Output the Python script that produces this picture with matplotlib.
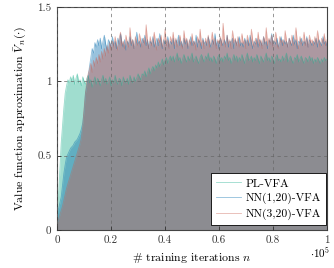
import numpy as np
import matplotlib
matplotlib.use("Agg")
import matplotlib.pyplot as plt

plt.rcParams['font.family'] = ['cmr10', 'DejaVu Serif']
plt.rcParams['mathtext.fontset'] = 'cm'
plt.rcParams['axes.unicode_minus'] = False
plt.rcParams['font.size'] = 8

# training iterations (in units of 1e5), one sample every 500 iterations
iterations = np.arange(0, 100001, 500) / 1e5

# PL-VFA
pl_vfa = [
    0.08, 0.22, 0.40, 0.58, 0.70, 0.82, 0.92, 0.97, 1.01, 0.99, 1.03,
    1.00, 1.04, 0.98, 1.02, 1.05, 0.99, 1.01, 0.97, 1.03, 1.00,
    0.98, 1.02, 1.04, 0.99, 1.01, 0.96, 1.00, 1.03, 0.98, 1.02,
    1.00, 0.97, 1.01, 1.04, 0.99, 1.02, 0.98, 1.00, 1.03, 0.97,
    1.01, 0.99, 1.04, 1.00, 0.98, 1.02, 1.01, 0.97, 1.03, 1.00,
    0.99, 1.02, 0.98, 1.04, 1.01, 0.99, 1.03, 1.00, 1.02, 1.05,
    1.03, 1.01, 1.05, 1.04, 1.07, 1.03, 1.06, 1.09, 1.05, 1.08,
    1.10, 1.07, 1.11, 1.09, 1.13, 1.10, 1.12, 1.15, 1.11, 1.14,
    1.16, 1.12, 1.15, 1.17,
    1.14, 1.17, 1.13, 1.16, 1.19, 1.14, 1.16, 1.12, 1.15, 1.18,
    1.15, 1.13, 1.17, 1.14, 1.16, 1.19, 1.13, 1.15, 1.17, 1.14,
    1.12, 1.16, 1.18, 1.15, 1.13, 1.17, 1.15, 1.19, 1.14, 1.16,
    1.13, 1.17, 1.15, 1.12, 1.16, 1.18, 1.14, 1.16, 1.13, 1.17,
    1.15, 1.19, 1.14, 1.16, 1.12, 1.15, 1.18, 1.14, 1.17, 1.13,
    1.16, 1.14, 1.18, 1.15, 1.12, 1.16, 1.19, 1.14, 1.15, 1.17,
    1.13, 1.16, 1.14, 1.18, 1.15, 1.12, 1.17, 1.15, 1.13, 1.16,
    1.19, 1.14, 1.16, 1.13, 1.17, 1.15, 1.12, 1.16, 1.18, 1.14,
    1.15, 1.13, 1.17, 1.14, 1.16, 1.19, 1.13, 1.15, 1.17, 1.14,
    1.12, 1.16, 1.15, 1.18, 1.13, 1.15, 1.17, 1.14, 1.12, 1.16,
    1.15, 1.13, 1.17, 1.14, 1.16, 1.12, 1.15, 1.13, 1.16, 1.14,
    1.12, 1.15, 1.13, 1.16, 1.14, 1.15,
]

# NN(1,20)-VFA
nn1_vfa = [
    0.10, 0.14, 0.18, 0.22, 0.30, 0.38, 0.44, 0.49, 0.51, 0.53, 0.55, 0.56,
    0.57, 0.59, 0.60, 0.61, 0.63, 0.65, 0.68, 0.72, 0.80, 0.92, 0.97, 1.03,
    1.10, 1.16, 1.22, 1.19, 1.26, 1.23, 1.28,
    1.24, 1.29, 1.22, 1.27, 1.31, 1.25, 1.21, 1.28, 1.26, 1.23,
    1.30, 1.24, 1.27, 1.22, 1.29, 1.25, 1.32, 1.26, 1.23, 1.28,
    1.21, 1.27, 1.25, 1.30, 1.24, 1.28, 1.22, 1.26, 1.33, 1.25,
    1.27, 1.23, 1.29, 1.26, 1.31, 1.24, 1.28, 1.22, 1.27, 1.25,
    1.30, 1.23, 1.26, 1.29, 1.24, 1.32, 1.27, 1.22, 1.28, 1.25,
    1.26, 1.30, 1.23, 1.27, 1.25, 1.29, 1.22, 1.28, 1.26, 1.31,
    1.24, 1.27, 1.23, 1.29, 1.25, 1.28, 1.22, 1.26, 1.30, 1.24,
    1.27, 1.25, 1.31, 1.23, 1.28, 1.26, 1.22, 1.29, 1.25, 1.27,
    1.24, 1.30, 1.26, 1.23, 1.28, 1.25, 1.32, 1.24, 1.27, 1.22,
    1.29, 1.26, 1.24, 1.28, 1.25, 1.31, 1.23, 1.27, 1.26, 1.29,
    1.22, 1.28, 1.25, 1.27, 1.30, 1.24, 1.26, 1.23, 1.29, 1.25,
    1.28, 1.24, 1.31, 1.26, 1.22, 1.27, 1.25, 1.29, 1.23, 1.28,
    1.26, 1.24, 1.30, 1.25, 1.27, 1.22, 1.28, 1.26, 1.32, 1.24,
    1.27, 1.25, 1.29, 1.23, 1.26, 1.30, 1.24, 1.28, 1.25, 1.27,
    1.23, 1.29, 1.26, 1.24, 1.31, 1.25, 1.28, 1.22, 1.27, 1.26,
    1.29, 1.24, 1.27, 1.25, 1.30, 1.23, 1.28, 1.26, 1.24, 1.27,
    1.25, 1.29, 1.23, 1.28, 1.26, 1.24, 1.30, 1.25, 1.27, 1.24,
]

# NN(3,20)-VFA
nn3_vfa = [
    0.05, 0.07, 0.10, 0.13, 0.16, 0.20, 0.24, 0.28, 0.31, 0.34, 0.37, 0.40,
    0.43, 0.46, 0.49, 0.52, 0.55, 0.58, 0.62, 0.70, 0.82, 0.92, 1.00, 1.05,
    1.08, 1.12, 1.06, 1.14, 1.10, 1.16, 1.12, 1.18, 1.13, 1.20, 1.15, 1.22,
    1.17, 1.24, 1.19, 1.26, 1.21,
    1.27, 1.23, 1.30, 1.25, 1.21, 1.29, 1.33, 1.24, 1.27, 1.22,
    1.31, 1.26, 1.23, 1.36, 1.25, 1.28, 1.22, 1.30, 1.26, 1.24,
    1.32, 1.27, 1.23, 1.29, 1.25, 1.38, 1.26, 1.22, 1.30, 1.24,
    1.28, 1.33, 1.25, 1.21, 1.29, 1.26, 1.31, 1.23, 1.27, 1.35,
    1.24, 1.28, 1.22, 1.30, 1.26, 1.33, 1.24, 1.29, 1.23, 1.27,
    1.31, 1.25, 1.22, 1.34, 1.26, 1.29, 1.23, 1.28, 1.25, 1.32,
    1.24, 1.27, 1.21, 1.30, 1.26, 1.35, 1.24, 1.28, 1.22, 1.29,
    1.25, 1.31, 1.23, 1.27, 1.33, 1.25, 1.29, 1.22, 1.28, 1.26,
    1.30, 1.24, 1.39, 1.27, 1.23, 1.31, 1.25, 1.28, 1.22, 1.34,
    1.26, 1.29, 1.24, 1.30, 1.23, 1.27, 1.32, 1.25, 1.28, 1.22,
    1.31, 1.26, 1.24, 1.35, 1.27, 1.23, 1.29, 1.25, 1.33, 1.24,
    1.28, 1.22, 1.30, 1.26, 1.36, 1.24, 1.29, 1.25, 1.31, 1.23,
    1.27, 1.33, 1.25, 1.22, 1.30, 1.26, 1.28, 1.24, 1.34, 1.27,
    1.23, 1.29, 1.25, 1.31, 1.24, 1.28, 1.36, 1.26, 1.22, 1.30,
    1.25, 1.27, 1.33, 1.24, 1.29, 1.23, 1.31, 1.26, 1.28, 1.24,
    1.30, 1.25, 1.34, 1.27, 1.23, 1.29, 1.26, 1.32, 1.24, 1.28,
]

series = [
    ("PL-VFA", pl_vfa, "#1db08e"),
    ("NN(1,20)-VFA", nn1_vfa, "#0a6fae"),
    ("NN(3,20)-VFA", nn3_vfa, "#c85f50"),
]

fig = plt.figure(figsize=(3.34, 2.68), dpi=100)
ax = fig.add_axes([0.171, 0.142, 0.808, 0.832])

for label, vals, col in series:
    ax.fill_between(iterations, 0, vals, color=col, alpha=0.42, linewidth=0)
    ax.plot(iterations, vals, color=col, alpha=0.45, linewidth=0.6, label=label)

ax.set_xlim(0, 1)
ax.set_ylim(0, 1.5)
ax.set_xticks([0, 0.2, 0.4, 0.6, 0.8, 1])
ax.set_xticklabels(["0", "0.2", "0.4", "0.6", "0.8", "1"])
ax.set_yticks([0, 0.5, 1, 1.5])
ax.set_yticklabels(["0", "0.5", "1", "1.5"])
ax.tick_params(direction='in', length=3, width=0.6, pad=4, colors='#333333')
ax.grid(True, linestyle=(0, (4, 4)), color='#666666', linewidth=0.6, alpha=0.8)
ax.set_axisbelow(False)
for sp in ax.spines.values():
    sp.set_color('#444444')
    sp.set_linewidth(0.8)

ax.set_xlabel(r"# training iterations $n$", labelpad=4, fontsize=8.5)
ax.set_ylabel(r"Value function approximation $\bar{V}_n(\cdot)$", labelpad=6, fontsize=8.5)
ax.text(1.012, -0.068, r"$\cdot 10^5$", transform=ax.transAxes,
        ha='right', va='top', fontsize=8)

leg = ax.legend(loc='lower right', bbox_to_anchor=(0.998, 0.02), borderaxespad=0,
                fancybox=False, framealpha=1, edgecolor='black',
                handlelength=2.2, handletextpad=0.4, labelspacing=0.4,
                borderpad=0.45, fontsize=8.3)
leg.get_frame().set_linewidth(0.6)

fig.savefig("out.png", dpi=100)
